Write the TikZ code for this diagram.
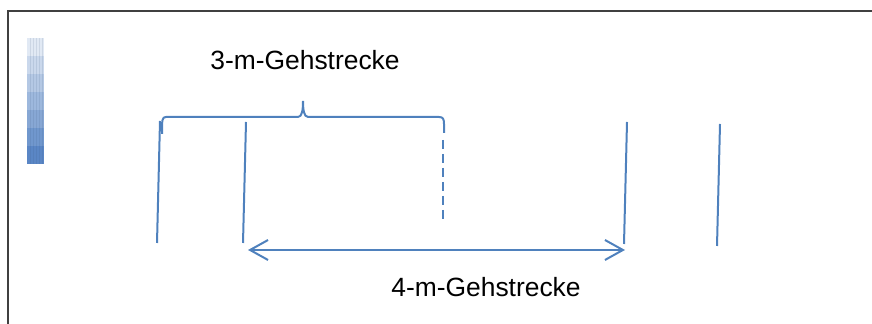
\documentclass[tikz,border=0pt]{standalone}
\usepackage{fontspec}
\setmainfont{Liberation Sans}
\usepackage{xcolor}
\usetikzlibrary{arrows.meta, calc}

\definecolor{officeblue}{RGB}{79,129,189}
\definecolor{barblue}{RGB}{88,133,196}
\definecolor{framegray}{RGB}{64,64,64}

\begin{document}
\begin{tikzpicture}[x=0.5pt, y=-0.5pt,
        walk_line/.style={draw=officeblue, line width=1pt},
        dash_line/.style={draw=officeblue, line width=1pt, dash pattern=on 4.5pt off 2.5pt},
        span_arrow/.style={{Straight Barb[length=9pt, width=10pt]}-{Straight Barb[length=9pt, width=10pt]}, officeblue, line width=1pt},
        label_text/.style={font=\fontsize{13.2}{16}\selectfont, text=black, inner sep=0pt, anchor=base}
    ]
    \useasboundingbox (0,0) rectangle (872,324);

    % Frame
    \draw[framegray, line width=0.9pt] (8,324) -- (8,11) -- (872,11);

    % Gradient bar
    \foreach \k in {0,...,6} {
        \pgfmathsetmacro{\shade}{18+13.5*\k}
        \fill[barblue!\shade] (27,38+18*\k) rectangle (44,56+18*\k);
    }
    \foreach \sx in {30,33,36,39,42}
        \draw[barblue!60!black, opacity=0.12, line width=0.4pt] (\sx,38) -- (\sx,164);

    % Markers
    \coordinate (m1_top) at (160,121);  \coordinate (m1_bot) at (157,243);
    \coordinate (m2_top) at (246,122);  \coordinate (m2_bot) at (243,243);
    \coordinate (m3_top) at (443,140);  \coordinate (m3_bot) at (443,222);
    \coordinate (m4_top) at (627,122);  \coordinate (m4_bot) at (624,244);
    \coordinate (m5_top) at (720,124);  \coordinate (m5_bot) at (717,246);

    \draw[walk_line] (m1_top) -- (m1_bot);
    \draw[walk_line] (m2_top) -- (m2_bot);
    \draw[dash_line] (m3_top) -- (m3_bot);
    \draw[walk_line] (m4_top) -- (m4_bot);
    \draw[walk_line] (m5_top) -- (m5_bot);

    % Brace for 3 m
    \draw[walk_line] (162,134) .. controls (162,120) and (162,117) .. (166,117) -- (298,117)
        .. controls (302,117) and (303,110) .. (303,101)
        .. controls (303,110) and (304,117) .. (308,117) -- (439,117)
        .. controls (443,117) and (444,119) .. (444,124) -- (444,133);
    \node[label_text] (lbl_three) at (305,70) {3-m-Gehstrecke};

    % Arrow for 4 m
    \coordinate (arr_left) at (248,250);
    \coordinate (arr_right) at (625,250);
    \draw[span_arrow] (arr_left) -- (arr_right);
    \node[label_text] (lbl_four) at (486,297) {4-m-Gehstrecke};
\end{tikzpicture}
\end{document}
